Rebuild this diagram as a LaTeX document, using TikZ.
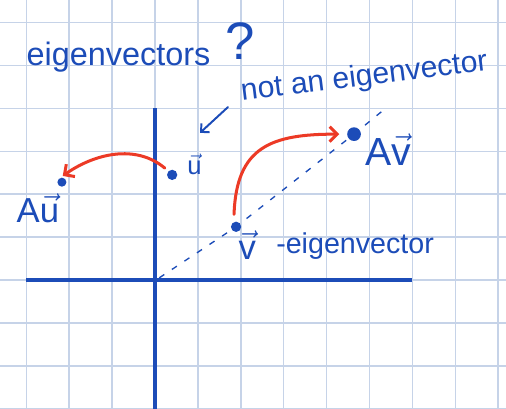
\documentclass[tikz,border=0pt]{standalone}
\usepackage{amsmath}
\usepackage{fontspec}
\setmainfont{Liberation Sans}
\usepackage{tikz}
\usetikzlibrary{arrows.meta, positioning}
\definecolor{ink}{RGB}{28,76,184}
\definecolor{redink}{RGB}{236,58,38}
\definecolor{paper}{RGB}{198,211,232}
\tikzstyle{gridline} = [draw=paper, line width=1pt]
\tikzstyle{axis} = [draw=ink, line width=2.3pt]
\tikzstyle{dot} = [circle, fill=ink, inner sep=0pt, minimum size=0.24cm]
\tikzstyle{hand} = [text=ink, inner sep=0pt]
\tikzstyle{redarrow} = [draw=redink, line width=2pt, line cap=round, -{Straight Barb[length=5pt, width=10pt, line width=2pt]}]
\tikzstyle{bluearrow} = [draw=ink, line width=1.3pt, line cap=round, -{Straight Barb[length=4pt, width=8pt, line width=1.3pt]}]
\tikzstyle{spanline} = [draw=ink, line width=0.9pt, dash pattern=on 4pt off 6pt]

\begin{document}
\begin{tikzpicture}
            \useasboundingbox (-3.613,-3.007) rectangle (8.182,6.527);
            % Grid and axes
            \draw [gridline] (-3.613,-3.007) grid (8.182,6.527);
            \draw [axis] (-3,0) -- (6,0);
            \draw [axis] (0,4) -- (0,-3.1);
            \coordinate (origin) at (0.1,0.05);

            % Nodes
            \node (u) [dot] at (0.40,2.45) {};
            \node (Au) [dot, minimum size=0.21cm] at (-2.17,2.28) {};
            \node (v) [dot] at (1.89,1.24) {};
            \node (Av) [dot, minimum size=0.32cm] at (4.64,3.40) {};
            \coordinate (spanend) at (5.41,4.03);

            \node (ulabel) [hand, anchor=base] at (0.92,2.45) {\fontsize{17}{17}\selectfont $\vec{\text{u}}$};
            \node (Aulabel) [hand, anchor=base] at (-2.73,1.33) {\fontsize{23}{23}\selectfont A$\vec{\text{u}}$};
            \node (vlabel) [hand, anchor=base] at (2.15,0.47) {\fontsize{23}{23}\selectfont $\vec{\text{v}}$};
            \node (Avlabel) [hand, anchor=base] at (5.43,2.68) {\fontsize{26}{26}\selectfont A$\vec{\text{v}}$};
            \node (veig) [hand, anchor=base west] at (2.82,0.61) {\fontsize{19}{19}\selectfont -eigenvector};
            \node (noteig) [hand, rotate=7] at (4.88,4.71) {\fontsize{20}{20}\selectfont not an eigenvector};
            \node (title) [hand, anchor=base west] at (-3.0,5.01) {\fontsize{21.5}{21.5}\selectfont eigenvectors};
            \node (qmark) [hand, anchor=base] at (1.98,5.13) {\fontsize{35}{35}\selectfont ?};
            \coordinate (hinttail) at (1.70,4.03);
            \coordinate (hinttip) at (1.05,3.43);

            % Edges
            \draw [spanline] (origin) -- (v.center) -- (Av.center) -- (spanend);
            \draw [redarrow, shorten <=3pt, shorten >=2pt] (u.135) to[out=140, in=35] (Au.110);
            \draw [redarrow, shorten <=5pt, shorten >=5pt, looseness=1.35] (v.115) to[out=88, in=180] (Av.west);
            \draw [bluearrow] (hinttail) -- (hinttip);
        \end{tikzpicture}
\end{document}
